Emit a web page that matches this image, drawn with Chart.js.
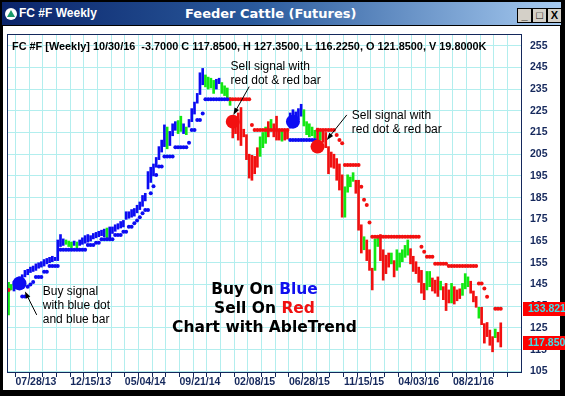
<!DOCTYPE html>
<html><head><meta charset="utf-8">
<script src="https://cdn.jsdelivr.net/npm/chart.js@4.4.0/dist/chart.umd.min.js"></script>
<style>
html,body{margin:0;padding:0;width:565px;height:396px;overflow:hidden;background:#000;}
#titlebar{position:absolute;left:2px;top:2px;width:559px;height:23px;background:linear-gradient(to right,#0a246a 0%,#2a5a9c 45%,#a6caf0 100%);}
#icon{position:absolute;left:3px;top:6px;width:12px;height:12px;border-radius:6px;background:#fff;}
#icon:after{content:"";position:absolute;left:2px;top:2px;border-left:4px solid transparent;border-right:4px solid transparent;border-bottom:7px solid #1a9a6a;}
#t1{position:absolute;left:17px;top:4px;font:bold 12px "Liberation Sans",Arial,sans-serif;color:#fff;}
#t2{position:absolute;left:183px;top:4px;font:bold 13px "DejaVu Sans",Verdana,sans-serif;color:#fff;}
.btn{position:absolute;top:6px;width:13px;height:13px;background:#d4d0c8;border:1px solid #000;font:bold 11px "Liberation Sans",Arial,sans-serif;color:#000;text-align:center;line-height:12px;}
#white{position:absolute;left:3px;top:26px;width:557px;height:364px;background:#fff;}
canvas{position:absolute;left:0;top:0;}
</style></head>
<body>
<div id="titlebar"><div id="icon"></div><div id="t1">FC #F Weekly</div><div id="t2">Feeder Cattle (Futures)</div>
<div class="btn" style="left:515px">_</div><div class="btn" style="left:530px">□</div><div class="btn" style="left:545px">X</div></div>
<div id="white"></div>
<canvas id="c" width="565" height="396"></canvas>
<script>
const n = null;
// x-axis: week index 0 = 05/19/13, weekly bars
const weekLabels = ['07/28/13','12/15/13','05/04/14','09/21/14','02/08/15','06/28/15','11/15/15','04/03/16','08/21/16'];
const labelWeeks = [10,30,50,70,90,110,130,150,170];
const yTicks = [105,115,125,135,145,155,165,175,185,195,205,215,225,235,245,255];

const barLow = [
131,142.5,142,143,144.5,147,148.5,149.5,150.5,151,
151.5,152.5,153,153.5,154.5,155,155.5,156,156,162.5,
163,163.5,162.5,162,163,161.5,163,163.5,164,164.5,
165,166,166.5,167,167.5,167,166.5,166.5,168.5,169.5,
170.5,171,171.5,175,175.5,176,176.5,178,179.5,181,
183.5,189,192,195,199,202.5,206,208.5,207.5,209,
213.5,216,214.5,215.5,214.5,214,217.5,220,223.5,228.5,
232.5,237,236,235,235.5,233,235,237.5,233,232,
230.5,227.5,212.5,214.5,211.5,209,213,202.5,194,193,
196,199,204,208,210,213,216,213,211.5,211.5,
211,211.5,212,217,217.5,222,221,222.5,218,214,
213,213.5,212.5,210,211.5,210.5,208,196,199,198.5,
193,188.5,176,176,187.5,190,192.5,187,170,159.5,
161,156,151.5,142.5,151.5,162.5,156,147,150,153,
154.5,148.5,151.5,153,155.5,157.5,158.5,154.5,151,150,
146,141,138,142.5,144,142,141,139.5,142.5,138,
133,136.5,136.5,136,137.5,138.5,140,143,144,141,
137,134.5,129.5,126.5,118,121,117,114,120.5,118.5,
116.225];
const barHigh = [
146,145,146.5,147.5,148.5,149.5,151.5,152,153,153.5,
154.5,155,155.5,156.5,157,157.5,158,157.5,165.5,168,
166,165.5,165,164.5,165,164.5,165.5,166.5,167.5,168,
167.5,168.5,169,169.5,170,170.5,171,171.5,171.5,172.5,
173,174,174.5,178.5,178.5,179.5,180,181.5,183,186,
187,197,199,200.5,203.5,208.5,211.5,218.5,217.5,215.5,
219,220,220.5,222.5,219,217.5,221,226,229,233,
242.5,244.5,241.5,240.5,240,239,239.5,240,238,236.5,
235.5,231,221,218.5,224,226.5,216.5,214,205,204.5,
204,208,213,215,217.5,220,221,219,222.5,216,
216,215.5,216.5,224,225.5,224.5,226,228,225.5,220,
219,217.5,216,217,215.5,216,215,208.5,206,205,
203,200.5,195.5,190,195.5,194.5,196.5,193,193,172.5,
167,165.5,161,152.5,166,167,168,161,158.5,159.5,
159.5,156,161,159.5,161,163,165.5,161.5,158,155.5,
153,151.5,145.5,151,151,148,147,148.5,146.5,144,
145.5,142.5,145.5,144,142.5,143,145.5,150,148.5,146.5,
142,139.5,134.5,134.5,127,127.5,124,121,124.5,123,
127.35];
// B = up trend (blue), G = neutral (green), R = down trend (red)
const barTrend = ('GGBBBBBBBB'+'BBBBBBBBBB'+'BGGGBGBBBB'+'BBBBBBGBBB'+'BBBBBBBBBB'+
  'BBBBBBBBGB'+'BBGGBGBBBB'+'BBGGGGBBGG'+'GGRRRRRRRR'+'RRGGGRGRRR'+'GRRBBBBBGG'+
  'GGGRGRRRRR'+'RRRGGGGRRR'+'GRRRGGRRRR'+'GRGGGGGRRR'+'RRRGGRRRGR'+'RRGRRRGGGR'+
  'RRGRRRRRGR'+'R').split('');
const buyStop = [
n,n,n,n,n,139.5,139.5,144,145,146.2,
148.5,148.5,148.5,150.9,150.9,153.5,153.5,153.5,153.5,161,
161,161,161,161,161,161,161,161,161,163.2,
163.2,163.2,164.2,164.2,165.8,165.8,165.8,165.8,165.8,167.8,
167.8,167.8,169.3,169.3,171.6,171.6,173.2,174.5,176,177.8,
179.3,179.3,187,190.3,195.4,199.3,199.3,203.9,203.9,203.9,
203.9,208.2,208.2,208.2,208.2,208.2,210.3,216.1,216.1,220.8,
220.8,223.8,230.3,230.3,230.3,230.3,230.3,230.3,230.3,230.3,
230.3,n,n,n,n,n,n,n,n,n,
n,n,n,n,n,n,n,n,n,n,
n,n,n,211.5,211.5,211.5,211.5,211.5,211.5,211.5,
211.5,211.5,211.5,n,n,n,n,n,n,n,
n,n,n,n,n,n,n,n,n,n, n,n,n,n,n,n,n,n,n,n, n,n,n,n,n,n,n,n,n,n,
n,n,n,n,n,n,n,n,n,n, n,n,n,n,n,n,n,n,n,n, n,n,n,n,n,n,n,n,n,n,
n];
const sellStop = [
142.5,n,n,n,n,n,n,n,n,n,
n,n,n,n,n,n,n,n,n,n, n,n,n,n,n,n,n,n,n,n, n,n,n,n,n,n,n,n,n,n,
n,n,n,n,n,n,n,n,n,n, n,n,n,n,n,n,n,n,n,n, n,n,n,n,n,n,n,n,n,n,
n,n,n,n,n,n,n,n,n,n,
n,230.3,230.3,230.3,230.3,230.3,230.3,230.3,230.3,218.5,
216.2,216.2,216.2,216.2,216.2,216.2,216.2,216.2,216.2,216.2,
216.2,216.2,216.2,n,n,n,n,n,n,n,
n,n,n,216.2,216.2,216.2,216.2,216.2,216.2,216.2,
213.9,211.5,210,200,200,200,200,200,200,190,
184,181.6,173.6,167,167,167,167,167,167,167,
167,167,167,167,167,167,167,167,167,167,
167,162.4,160.1,157.8,157.8,157.8,154.5,154.5,154.5,154.5,
154.5,153.5,153.5,153.5,153.5,153.5,153.5,153.5,153.5,153.5,
153.5,153.5,145.5,145.5,143.2,139.4,n,n,133.821,133.821,
133.821];
const signalWeek = [4, 82, 104, 113];
const signalPrice = [145.5, 220, 220, 208.5];
const signalSide = ['B','R','B','R'];
const quote = ['10/30/16','-3.7000','117.8500','127.3500','116.2250','121.8500','19.8000K'];
const lastStop = 133.821;
const lastClose = 117.850;

const COL = {B:'#0c0cf2', G:'#12e812', R:'#f21010'};
const GRID = '#b2eeee', FRAME = '#14285c', AXIS = '#15285c';
const FONT = '"Liberation Sans", Arial, sans-serif';
const WIDE = '"DejaVu Sans", Verdana, sans-serif';

const notes = [
  {week:12.5, price:140.0, gap:13.6, lines:['Buy signal','with blue dot','and blue bar']},
  {week:81.2, price:243.6, gap:13.6, lines:['Sell signal with','red dot & red bar']},
  {week:125.5, price:221.2, gap:13.6, lines:['Sell signal with','red dot & red bar']}
];
const arrows = [
  {from:[10.3,131.0], to:[6.0,141.8]},
  {from:[88.0,236.1], to:[82.2,223.1]},
  {from:[123.7,223.1], to:[116.4,211.6]}
];
const slogan = {week:93.6, price:140.65, gap:18.8, lines:[
  [['Buy On ','#000'],['Blue','#1010ee']],
  [['Sell On ','#000'],['Red','#f01010']],
  [['Chart with AbleTrend','#000']]
]};

const overlay = {
  id:'overlay',
  afterDraw(chart){
    const {ctx, chartArea:a, scales:{x, y}} = chart;
    ctx.save();
    ctx.strokeStyle = FRAME; ctx.lineWidth = 1;
    ctx.strokeRect(a.left-0.5, a.top-0.5, a.right-a.left+1, a.bottom-a.top+1);
    ctx.fillStyle = '#000';
    ctx.font = 'bold 10.9px ' + FONT;
    ctx.textBaseline = 'alphabetic'; ctx.textAlign = 'left';
    ctx.fillText('FC #F [Weekly] ' + quote[0] + '  ' + quote[1] + ' C ' + quote[2] + ', H ' + quote[3] +
      ', L ' + quote[4] + ', O ' + quote[5] + ', V ' + quote[6], a.left + 4, a.top + 15);
    ctx.font = '12px ' + FONT;
    for (const nt of notes) {
      const px = x.getPixelForValue(nt.week), py = y.getPixelForValue(nt.price);
      nt.lines.forEach((t,i)=>ctx.fillText(t, px, py + i*nt.gap));
    }
    ctx.strokeStyle = '#000'; ctx.lineWidth = 1;
    for (const ar of arrows) {
      const x1 = x.getPixelForValue(ar.from[0]), y1 = y.getPixelForValue(ar.from[1]);
      const x2 = x.getPixelForValue(ar.to[0]), y2 = y.getPixelForValue(ar.to[1]);
      const ang = Math.atan2(y2-y1, x2-x1);
      ctx.beginPath(); ctx.moveTo(x1,y1); ctx.lineTo(x2-5*Math.cos(ang), y2-5*Math.sin(ang)); ctx.stroke();
      ctx.beginPath(); ctx.moveTo(x2,y2);
      ctx.lineTo(x2-7*Math.cos(ang)+2.5*Math.sin(ang), y2-7*Math.sin(ang)-2.5*Math.cos(ang));
      ctx.lineTo(x2-7*Math.cos(ang)-2.5*Math.sin(ang), y2-7*Math.sin(ang)+2.5*Math.cos(ang));
      ctx.closePath(); ctx.fillStyle='#000'; ctx.fill();
    }
    ctx.font = 'bold 15.5px ' + WIDE;
    const cx = x.getPixelForValue(slogan.week), cy = y.getPixelForValue(slogan.price);
    slogan.lines.forEach((parts,i)=>{
      const w = parts.reduce((s,p)=>s+ctx.measureText(p[0]).width,0);
      let sx = cx - w/2;
      for (const p of parts){ ctx.fillStyle = p[1]; ctx.fillText(p[0], sx, cy + i*slogan.gap); sx += ctx.measureText(p[0]).width; }
    });
    ctx.font = 'bold 10.5px ' + FONT; ctx.textBaseline = 'middle';
    for (const v of [lastStop, lastClose]) {
      const py = Math.round(y.getPixelForValue(v));
      ctx.fillStyle = '#ff0000'; ctx.fillRect(a.right+2, py-7, 50, 14);
      ctx.fillStyle = '#3fe0e8'; ctx.fillText(v.toFixed(3), a.right+7, py+0.5);
    }
    ctx.restore();
  }
};

const gridWeeks = Array.from({length:38}, (_, i) => i*5);

new Chart(document.getElementById('c'), {
  type:'bar',
  data:{datasets:[
    {type:'line', label:'signal', data:signalWeek.map((w,i)=>({x:w, y:signalPrice[i]})), showLine:false,
     pointRadius:7, pointHoverRadius:7, pointBorderWidth:0, pointBackgroundColor:signalSide.map(s=>COL[s]), order:0},
    {type:'line', label:'buy stop', data:buyStop.map((v,i)=>({x:i, y:v})), showLine:false,
     pointRadius:2, pointBorderWidth:0, pointBackgroundColor:COL.B, order:1},
    {type:'line', label:'sell stop', data:sellStop.map((v,i)=>({x:i, y:v})), showLine:false,
     pointRadius:2, pointBorderWidth:0, pointBackgroundColor:COL.R, order:1},
    {type:'bar', label:'price', data:barLow.map((lo,i)=>({x:i, y:[lo, barHigh[i]]})),
     backgroundColor:barTrend.map(c=>COL[c]), barThickness:2, grouped:false, order:2}
  ]},
  options:{
    responsive:false, animation:false, events:[],
    layout:{padding:{left:8, top:35, right:0, bottom:0}},
    plugins:{legend:{display:false}, tooltip:{enabled:false}},
    scales:{
      x:{type:'linear', min:-0.2, max:187.4, offset:false,
        afterFit(s){ s.height = 24; },
        afterBuildTicks(s){ s.ticks = gridWeeks.map(v=>({value:v})); },
        grid:{color:GRID, tickColor:FRAME, tickLength:5, drawTicks:true},
        border:{display:false},
        ticks:{autoSkip:false, maxRotation:0, minRotation:0, padding:0, color:AXIS,
          font:{family:FONT, weight:'bold', size:10.5, lineHeight:1},
          callback(v){ const i = labelWeeks.indexOf(v); return i >= 0 ? weekLabels[i] : ''; }}},
      y:{type:'linear', position:'right', min:104.7, max:259.9,
        afterFit(s){ s.width = 44; },
        afterBuildTicks(s){ s.ticks = yTicks.map(v=>({value:v})); },
        grid:{color:GRID, drawTicks:false},
        border:{display:false},
        ticks:{padding:9, color:AXIS, font:{family:FONT, weight:'bold', size:10.5}}}
    }
  },
  plugins:[overlay]
});
</script>
</body></html>
